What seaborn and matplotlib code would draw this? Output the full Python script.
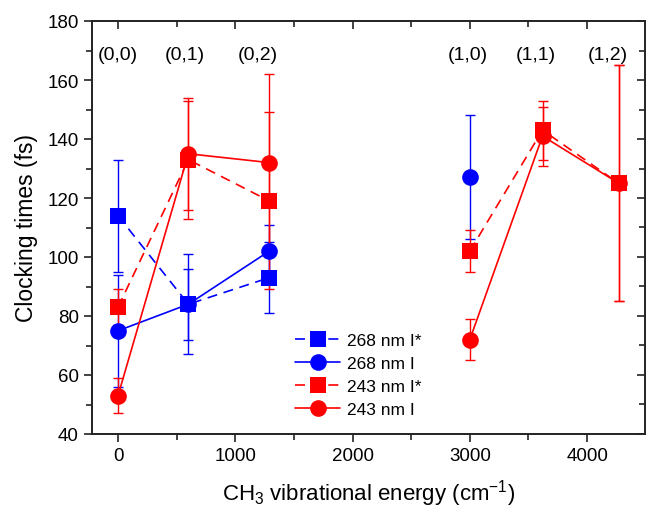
import numpy as np
import pandas as pd
import matplotlib
matplotlib.use("Agg")
import matplotlib.pyplot as plt
import seaborn as sns
from matplotlib.ticker import MultipleLocator
from matplotlib.lines import Line2D

# ---------------- data ----------------
x_268 = [0, 600, 1290]
y_268_Istar = [114, 84, 93]
e_268_Istar = [19, 17, 12]

x_268_I = [0, 600, 1290, 3000]
y_268_I = [75, 84, 102, 127]
e_268_I = [19, 12, 9, 21]

x_243 = [0, 600, 1290, 3000, 3620, 4270]
y_243_Istar = [83, 133, 119, 102, 143, 125]
e_243_Istar = [6, 20, 30, 7, 10, 40]
y_243_I = [53, 135, 132, 72, 141, 125]
e_243_I = [6, 19, 30, 7, 10, 40]

state_labels = ["(0,0)", "(0,1)", "(0,2)", "(1,0)", "(1,1)", "(1,2)"]
state_label_x = [0, 570, 1195, 2985, 3560, 4175]
state_label_y = 168.5

series_names = ["268 nm I*", "268 nm I", "243 nm I*", "243 nm I"]

# ---------------- build table ----------------
rows = []
def add(name, xs, ys, es):
    for xv, yv, ev in zip(xs, ys, es):
        rows.append(dict(series=name, x=xv, y=yv, err=ev, group=0 if xv < 2000 else 1))
add(series_names[0], x_268, y_268_Istar, e_268_Istar)
add(series_names[1], x_268_I, y_268_I, e_268_I)
add(series_names[2], x_243, y_243_Istar, e_243_Istar)
add(series_names[3], x_243, y_243_I, e_243_I)
df = pd.DataFrame(rows)

palette = {series_names[0]: "#0000FF", series_names[1]: "#0000FF",
           series_names[2]: "#FF0000", series_names[3]: "#FF0000"}
markers = {series_names[0]: "s", series_names[1]: "o",
           series_names[2]: "s", series_names[3]: "o"}
dashes = {series_names[0]: (6, 4), series_names[1]: "",
          series_names[2]: (6, 4), series_names[3]: ""}

sns.set_theme(style="ticks")
plt.rcParams['font.family'] = ['Liberation Sans', 'DejaVu Sans']
plt.rcParams['mathtext.fontset'] = 'custom'
plt.rcParams['mathtext.rm'] = 'Liberation Sans'
plt.rcParams['mathtext.it'] = 'Liberation Sans'
plt.rcParams['text.color'] = 'black'
plt.rcParams['axes.labelcolor'] = 'black'
plt.rcParams['xtick.labelcolor'] = 'black'
plt.rcParams['ytick.labelcolor'] = 'black'

fig = plt.figure(figsize=(6.46, 5.10), dpi=100)
ax = fig.add_axes([92/646, 1 - 435/510, (645 - 92)/646, (435 - 22)/510])

# error bars
for name in series_names:
    sub = df[df.series == name]
    ax.errorbar(sub.x, sub.y, yerr=sub.err, fmt="none", ecolor=palette[name],
                elinewidth=1.0, capsize=3.5, capthick=1.0, zorder=2)

sns.lineplot(data=df, x="x", y="y", hue="series", style="series",
             units="group", estimator=None, sort=True,
             hue_order=series_names, style_order=series_names,
             palette=palette, markers=markers, dashes=dashes,
             markersize=12, markeredgewidth=0, linewidth=1.2,
             ax=ax, zorder=3, legend=False)

handles = [Line2D([], [], color=palette[n], marker=markers[n], markersize=12,
                  markeredgewidth=0, linewidth=1.2,
                  linestyle=(0, (6, 4)) if dashes[n] else "-") for n in series_names]
ax.legend(handles, series_names, loc="upper left",
          bbox_to_anchor=(0.345, 0.275), frameon=False, fontsize=12.5,
          handlelength=2.6, handletextpad=0.4, labelspacing=0.45, borderpad=0.2)

for xv, lab in zip(state_label_x, state_labels):
    ax.text(xv, state_label_y, lab, ha="center", va="center", fontsize=14, color="black")

ax.set_xlim(-222, 4494)
ax.set_ylim(40, 180)
ax.xaxis.set_major_locator(MultipleLocator(1000))
ax.xaxis.set_minor_locator(MultipleLocator(500))
ax.yaxis.set_major_locator(MultipleLocator(20))
ax.yaxis.set_minor_locator(MultipleLocator(10))

tc = "#222222"
ax.tick_params(axis="both", which="major", direction="out", length=6, width=1.2,
               labelsize=13.5, color=tc, labelcolor="black")
ax.tick_params(axis="both", which="minor", direction="out", length=4, width=1.2,
               color=tc)
ax2 = ax.secondary_xaxis("top")
ax2.xaxis.set_major_locator(MultipleLocator(1000))
ax2.xaxis.set_minor_locator(MultipleLocator(500))
ax2.tick_params(which="major", direction="in", length=6, width=1.2, labeltop=False, color=tc)
ax2.tick_params(which="minor", direction="in", length=4, width=1.2, color=tc)
ax2.spines["top"].set_visible(False)
ax3 = ax.secondary_yaxis("right")
ax3.yaxis.set_major_locator(MultipleLocator(20))
ax3.yaxis.set_minor_locator(MultipleLocator(10))
ax3.tick_params(which="major", direction="in", length=6, width=1.2, labelright=False, color=tc)
ax3.tick_params(which="minor", direction="in", length=4, width=1.2, color=tc)
ax3.spines["right"].set_visible(False)

for sp in ax.spines.values():
    sp.set_linewidth(1.4)
    sp.set_color(tc)

ax.set_xlabel("CH$_3$ vibrational energy (cm$^{\\mathrm{-1}}$)", fontsize=16, labelpad=9, color="black")
ax.set_ylabel("Clocking times (fs)", fontsize=16.5, labelpad=7, color="black")

fig.savefig("out.png", dpi=100)
